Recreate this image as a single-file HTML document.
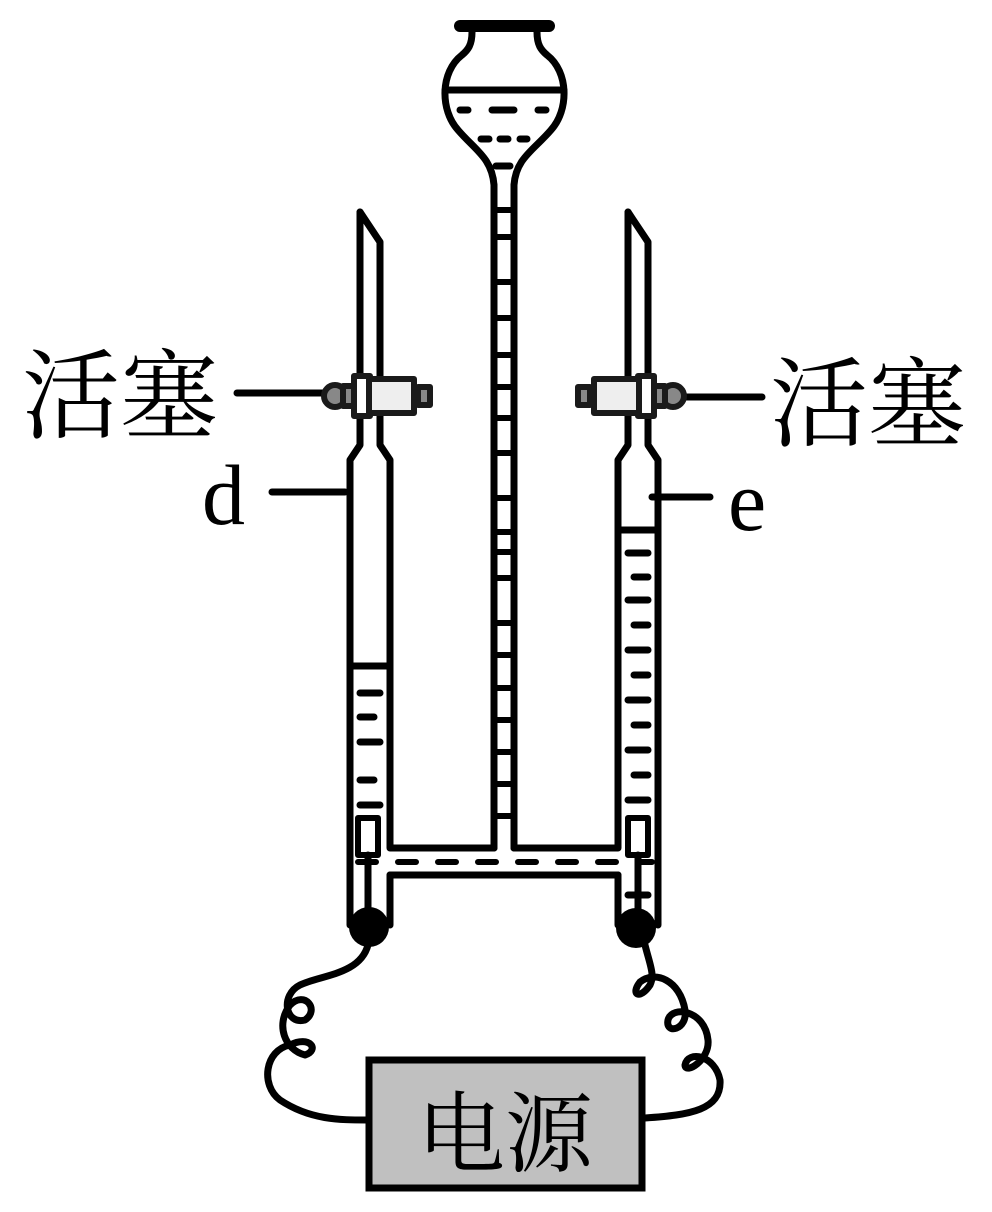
<!DOCTYPE html>
<html><head><meta charset="utf-8"><style>body{margin:0;background:#fff}svg{display:block}</style></head><body>
<svg width="992" height="1212" viewBox="0 0 992 1212" xmlns="http://www.w3.org/2000/svg">
<g fill="none" stroke="#000" stroke-width="7" stroke-linecap="round" stroke-linejoin="round">
<!-- funnel -->
<line x1="460" y1="26" x2="549" y2="26" stroke-width="12"/>
<path d="M472 32 C472 45 468 50 462 55 C440 72 440 110 458 130 C475 150 492 158 494 185"/>
<path d="M537 32 C537 45 541 50 547 55 C569 72 569 110 551 130 C534 150 516 158 514 185"/>
<line x1="445" y1="90" x2="564" y2="90"/>
<path d="M460 110h8M492 110h22M538 110h8M481 139h8M500 139h8M520 139h7M496 166h14"/>
<!-- center tube -->
<line x1="494" y1="185" x2="494" y2="848"/>
<line x1="514" y1="185" x2="514" y2="848"/>
<g stroke-linecap="butt" stroke-width="6">
<path d="M494 210h20M494 237h20M494 282h20M494 318h20M494 355h20M494 387h20M494 418h20M494 453h20M494 498h20M494 532h20M494 552h20M494 578h20M494 623h20M494 655h20M494 688h20M494 720h20M494 752h20M494 784h20M494 816h20"/>
</g>
<!-- left tube d -->
<path d="M360 212 L380 242 L380 445 L390 460 L390 848 L494 848"/>
<path d="M360 212 L360 445 L350 460 L350 925"/>
<line x1="390" y1="875" x2="390" y2="925"/>
<line x1="350" y1="666" x2="390" y2="666" stroke-linecap="butt"/>
<path d="M360 693h20M360 717h14M360 742h20M360 780h14M360 805h20"/>
<!-- right tube e -->
<path d="M628 212 L648 242 L648 445 L658 460 L658 925"/>
<path d="M628 212 L628 445 L618 460 L618 848 L514 848"/>
<line x1="618" y1="875" x2="618" y2="925"/>
<line x1="618" y1="530" x2="658" y2="530" stroke-linecap="butt"/>
<path d="M628 553h20M634 577h14M628 600h20M634 625h14M628 650h20M634 675h14M628 700h20M634 725h14M628 750h20M634 775h14M628 800h20"/>
<!-- bottom connector -->
<line x1="390" y1="875" x2="618" y2="875"/>
<line x1="358" y1="862" x2="652" y2="862" stroke-dasharray="18 22" stroke-width="6"/>
<!-- electrodes -->
<rect x="358" y="818" width="20" height="37" stroke-width="6" stroke-linecap="butt"/>
<line x1="368" y1="855" x2="368" y2="915"/>
<rect x="628" y="818" width="20" height="37" stroke-width="6" stroke-linecap="butt"/>
<line x1="638" y1="855" x2="638" y2="915"/>
<line x1="628" y1="895" x2="648" y2="895"/>
<!-- wires -->
<path d="M368 945 C360 975 320 975 300 985 C280 995 285 1025 305 1020 C320 1010 305 990 290 1005 C275 1025 285 1050 305 1055 C320 1050 310 1035 290 1045 C265 1050 260 1085 280 1100 C310 1120 340 1120 367 1120"/>
<path d="M645 945 C650 965 655 975 650 985 C640 1000 630 995 640 982 C655 970 680 980 685 1010 C688 1030 665 1035 668 1020 C672 1005 705 1010 708 1040 C710 1060 685 1075 685 1065 C688 1050 715 1055 720 1080 C722 1110 690 1115 645 1118"/>
<!-- label lines -->
<line x1="237" y1="393" x2="330" y2="393"/>
<line x1="272" y1="492" x2="345" y2="492"/>
<line x1="678" y1="397" x2="762" y2="397"/>
<line x1="652" y1="497" x2="710" y2="497"/>
</g>
<circle cx="369" cy="927" r="20" fill="#000"/>
<circle cx="636" cy="928" r="20" fill="#000"/>
<!-- stopcocks -->
<g stroke="#1a1a1a" stroke-width="6" stroke-linejoin="round">
<circle cx="335" cy="396" r="11" fill="#888"/>
<rect x="343" y="386" width="14" height="20" fill="#888"/>
<rect x="418" y="387" width="12" height="18" fill="#888"/>
<rect x="354" y="376" width="16" height="40" fill="#fff"/>
<rect x="369" y="379" width="45" height="34" fill="#eee"/>
<circle cx="673" cy="396" r="11" fill="#888"/>
<rect x="651" y="386" width="14" height="20" fill="#888"/>
<rect x="578" y="387" width="12" height="18" fill="#888"/>
<rect x="638" y="376" width="16" height="40" fill="#fff"/>
<rect x="594" y="379" width="45" height="34" fill="#eee"/>
</g>
<!-- power box -->
<rect x="369" y="1060" width="273" height="128" fill="#c0c0c0" stroke="#000" stroke-width="7"/>
<g font-family="'Liberation Serif','Noto Serif CJK SC',serif" fill="#000">
<text x="505" y="1165" font-size="88" text-anchor="middle">电源</text>
<text x="22" y="430" font-size="98">活塞</text>
<text x="770" y="438" font-size="98">活塞</text>
<text x="202" y="524" font-size="86">d</text>
<text x="728" y="530" font-size="86">e</text>
</g>
</svg>
</body></html>
